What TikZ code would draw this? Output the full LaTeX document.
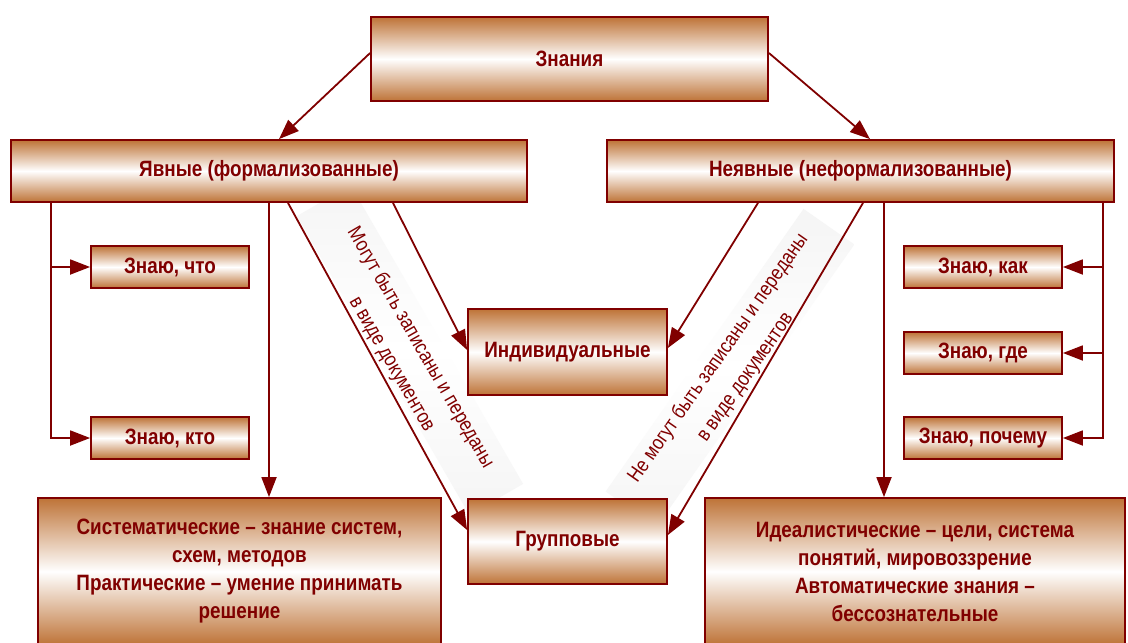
\documentclass[tikz,border=0pt]{standalone}
\usepackage{fontspec}
\setmainfont{Liberation Sans}[FakeStretch=0.85]
\usetikzlibrary{arrows.meta}
\definecolor{dred}{RGB}{128,0,0}
\definecolor{brn}{RGB}{190,115,55}
\begin{document}
\begin{tikzpicture}[x=1pt,y=-1pt,
 box/.style={draw=dred, line width=1.8pt, top color=brn, bottom color=brn, middle color=white, text=dred, font=\bfseries\fontsize{22.2}{28}\selectfont, align=center, inner sep=0pt},
 arr/.style={draw=dred, line width=1.8pt, -{Triangle[length=20pt,width=15pt]}},
 lbl/.style={text=dred, font=\fontsize{20.5}{33}\selectfont, align=center},
 rib/.style={draw=none, top color=black!4, bottom color=black!4, middle color=white, minimum width=345pt, minimum height=62pt}]
\useasboundingbox (0,0) rectangle (1128,643);
\clip (0,0) rectangle (1128,643);
\fill[white] (0,0) rectangle (1128,643);
% ribbons
\node[rib, rotate=-60] (ribL) at (410,350) {};
\node[rib, rotate=55] (ribR) at (730,368) {};
% boxes
\node[box, minimum width=397pt, minimum height=84pt] (zn) at (569.5,59) {Знания};
\node[box, minimum width=516pt, minimum height=62pt] (yav) at (269,171) {Явные (формализованные)};
\node[box, minimum width=507pt, minimum height=62pt] (neyav) at (860.5,171) {Неявные (неформализованные)};
\node[box, minimum width=158pt, minimum height=42pt] (chto) at (170,267) {Знаю, что};
\node[box, minimum width=158pt, minimum height=42pt] (kto) at (170,438) {Знаю, кто};
\node[box, minimum width=158pt, minimum height=42pt] (kak) at (983,267) {Знаю, как};
\node[box, minimum width=158pt, minimum height=42pt] (gde) at (983,353) {Знаю, где};
\node[box, minimum width=158pt, minimum height=42pt] (poch) at (983,438) {Знаю, почему};
\node[box, minimum width=199pt, minimum height=86pt] (ind) at (567.5,352) {Индивидуальные};
\node[box, minimum width=199pt, minimum height=85pt] (grp) at (567.5,541.5) {Групповые};
\node[box, minimum width=403pt, minimum height=147pt] (bigL) at (239.5,571.5) {Систематические – знание систем,\\схем, методов\\Практические – умение принимать\\решение};
\node[box, minimum width=420pt, minimum height=147pt] (bigR) at (915,571.5) {Идеалистические – цели, система\\понятий, мировоззрение\\Автоматические знания –\\бессознательные};
% labels
\node[lbl, rotate=-60] (labL) at (406,356) {Могут быть записаны и переданы\\в виде документов};
\node[lbl, rotate=55] (labR) at (732,368) {Не могут быть записаны и переданы\\в виде документов};
% connectors
\draw[arr] ([yshift=6pt]zn.west) -- ([xshift=10pt]yav.north);
\draw[arr] ([yshift=6pt]zn.east) -- ([xshift=9.5pt]neyav.north);
\coordinate (yl) at ([xshift=41pt]yav.south west);
\draw[arr] (yl) |- (chto.west);
\draw[arr] (yl) |- (kto.west);
\draw[arr] (yav.south) -- (yav.south |- bigL.north);
\draw[arr] ([xshift=124pt]yav.south) -- ([yshift=2pt]ind.west);
\draw[arr] ([xshift=19pt]yav.south) -- ([yshift=11.5pt]grp.west);
\draw[arr] ([xshift=-102.5pt]neyav.south) -- ([yshift=4pt]ind.east);
\draw[arr] ([xshift=2.5pt]neyav.south) -- ([yshift=6.5pt]grp.east);
\coordinate (nl) at ([xshift=23.5pt]neyav.south);
\draw[arr] (nl) -- (nl |- bigR.north);
\coordinate (nr) at ([xshift=-12pt]neyav.south east);
\draw[arr] (nr) |- (kak.east);
\draw[arr] (nr) |- (gde.east);
\draw[arr] (nr) |- (poch.east);
\end{tikzpicture}
\end{document}
